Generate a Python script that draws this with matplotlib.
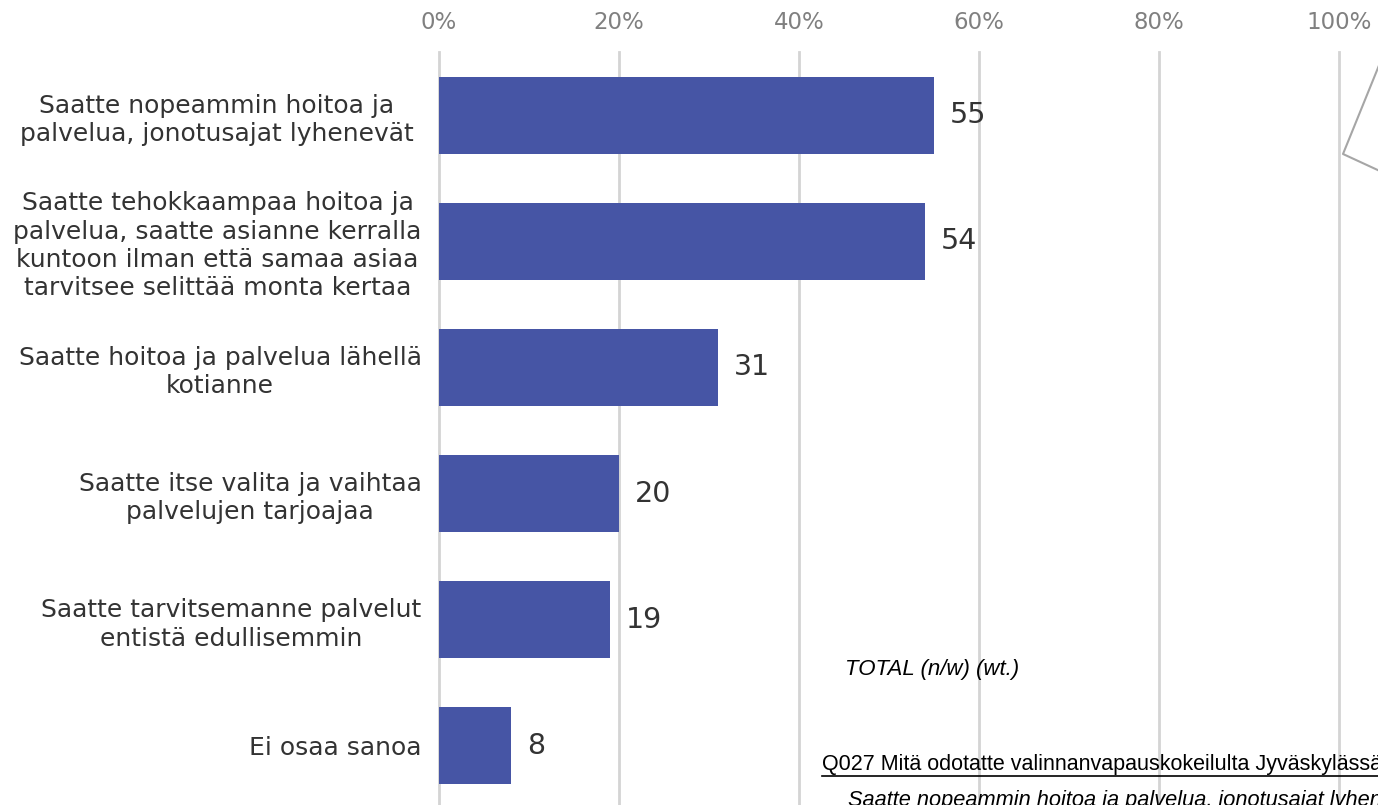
import matplotlib.pyplot as plt
from matplotlib.lines import Line2D

plt.rcParams['font.family'] = ['DejaVu Sans']

# Vastaukset (%), suurimmasta pienimpään
labels = [
    'Saatte nopeammin hoitoa ja \npalvelua, jonotusajat lyhenevät ',
    'Saatte tehokkaampaa hoitoa ja\npalvelua, saatte asianne kerralla\nkuntoon ilman että samaa asiaa\ntarvitsee selittää monta kertaa',
    'Saatte hoitoa ja palvelua lähellä\nkotianne',
    'Saatte itse valita ja vaihtaa\npalvelujen tarjoajaa',
    'Saatte tarvitsemanne palvelut\nentistä edullisemmin',
    'Ei osaa sanoa',
]
values = [55, 54, 31, 20, 19, 8]
xticks = [0, 20, 40, 60, 80, 100]
xtick_labels = ['0%', '20%', '40%', '60%', '80%', '100%']

W, H = 1378, 805
fig = plt.figure(figsize=(W / 100, H / 100), dpi=100)
ax = fig.add_axes([439 / W, -4 / H, 900 / W, 757 / H])

ax.barh(range(len(values)), values, height=0.61, color='#4655A5', zorder=2)
for i, v in enumerate(values):
    ax.text(v + 1.8, i, str(v), va='center', ha='left', fontsize=20.5, color='#333333')

ax.set_xlim(0, 100)
ax.set_ylim(len(values) - 0.5, -0.5)
ax.xaxis.tick_top()
ax.set_xticks(xticks)
ax.set_xticklabels(xtick_labels, fontsize=16.5, color='#808080')
ax.set_yticks(range(len(labels)))
ax.set_yticklabels(labels, fontsize=18, color='#333333')
for t in ax.get_yticklabels():
    t.set_multialignment('center')
    t.set_linespacing(1.23)
ax.tick_params(axis='both', length=0)
ax.tick_params(axis='x', pad=13)
ax.tick_params(axis='y', pad=12.5)
ax.grid(axis='x', color='#d4d4d4', linewidth=2)
for gl in ax.get_xgridlines():
    gl.set_clip_on(False)
ax.set_axisbelow(True)
for s in ax.spines.values():
    s.set_visible(False)

# Selitekuvan jäännösviiva oikeassa yläkulmassa
fig.add_artist(Line2D([1382 / W, 1343 / W, 1382 / W],
                      [1 - 58 / H, 1 - 154 / H, 1 - 172 / H],
                      color='#a6a6a6', linewidth=1.5))

fig.text(845 / W, 1 - 669 / H, 'TOTAL (n/w) (wt.)', family='Liberation Sans',
         style='italic', fontsize=16, va='center', ha='left', color='#000000')
q = fig.text(822 / W, 1 - 764 / H, 'Q027 Mitä odotatte valinnanvapauskokeilulta Jyväskylässä?',
             family='Liberation Sans', fontsize=15.5, va='center', ha='left', color='#000000')
fig.text(848 / W, 1 - 800 / H, 'Saatte nopeammin hoitoa ja palvelua, jonotusajat lyhenevät',
         family='Liberation Sans', style='italic', fontsize=15.7, va='center', ha='left',
         color='#000000')

# Alleviivaus otsikkotekstille
fig.canvas.draw()
bb = q.get_window_extent().transformed(fig.transFigure.inverted())
fig.add_artist(Line2D([bb.x0, bb.x1], [bb.y0 - 1 / H, bb.y0 - 1 / H],
                      color='#000000', linewidth=1.2))

fig.savefig('out.png', dpi=100)
